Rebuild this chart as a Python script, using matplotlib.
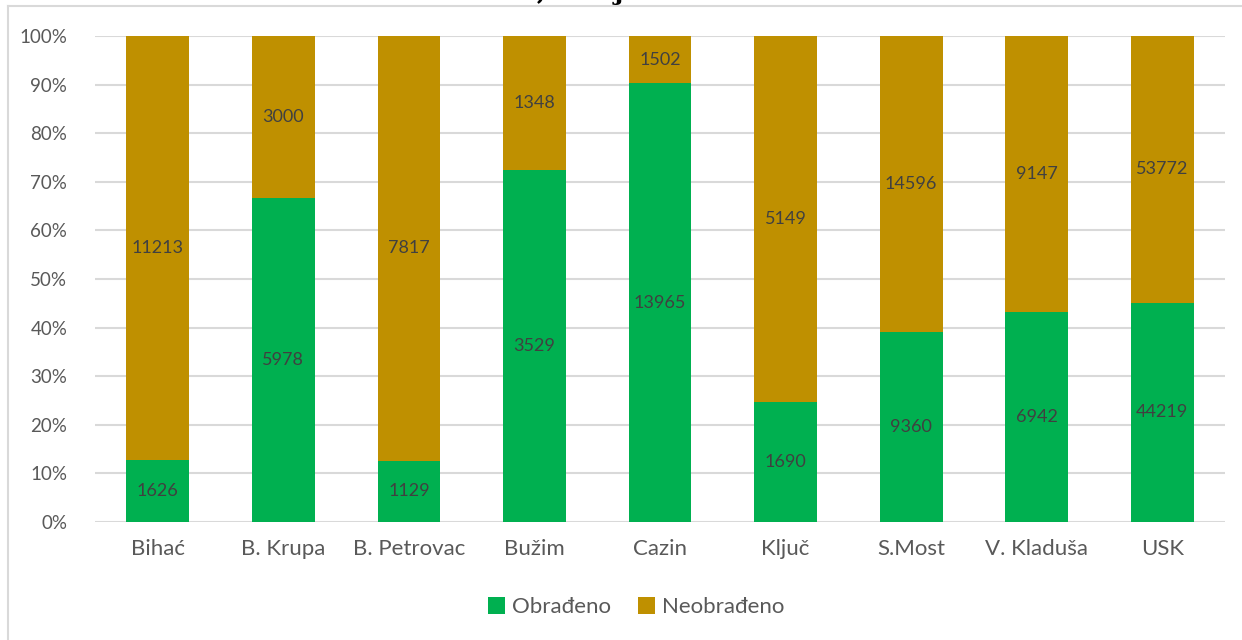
import matplotlib
matplotlib.use("Agg")
import matplotlib.pyplot as plt
import numpy as np

plt.rcParams['font.family'] = ['Lato', 'DejaVu Sans']

opcine = ["Bihać", "B. Krupa", "B. Petrovac", "Bužim", "Cazin", "Ključ", "S.Most", "V. Kladuša", "USK"]
obradeno = [1626, 5978, 1129, 3529, 13965, 1690, 9360, 6942, 44219]
neobradeno = [11213, 3000, 7817, 1348, 1502, 5149, 14596, 9147, 53772]

green = "#00B050"
gold = "#BF9000"

ob = np.array(obradeno, dtype=float)
ne = np.array(neobradeno, dtype=float)
tot = ob + ne
p_ob = ob / tot * 100
p_ne = ne / tot * 100

fig = plt.figure(figsize=(12.42, 6.4), dpi=100)
ax = fig.add_axes([95 / 1242, 1 - 522 / 640, 1130 / 1242, 486 / 640])

x = np.arange(len(opcine))
b1 = ax.bar(x, p_ob, 0.5, color=green, label="Obrađeno", zorder=3)
b2 = ax.bar(x, p_ne, 0.5, bottom=p_ob, color=gold, label="Neobrađeno", zorder=3)

for i in range(len(opcine)):
    ax.text(x[i], p_ob[i] / 2, str(obradeno[i]), ha="center", va="center",
            fontsize=13, color="#404040", zorder=4)
    ax.text(x[i], p_ob[i] + p_ne[i] / 2, str(neobradeno[i]), ha="center", va="center",
            fontsize=13, color="#404040", zorder=4)

ax.set_xlim(-0.5, len(opcine) - 0.5)
ax.set_ylim(0, 100)
ax.set_yticks(np.arange(0, 101, 10))
ax.set_yticklabels([f"{v}%" for v in range(0, 101, 10)])
ax.set_xticks(x)
ax.set_xticklabels(opcine)
ax.tick_params(axis="y", length=0, labelsize=13.5, labelcolor="#595959", pad=20)
ax.tick_params(axis="x", length=0, labelsize=16, labelcolor="#595959", pad=12)
ax.grid(axis="y", color="#D9D9D9", linewidth=1.5, zorder=0)
for s in ax.spines.values():
    s.set_visible(False)

leg = fig.legend(handles=[b1, b2], loc="center", bbox_to_anchor=(636 / 1242, 1 - 607 / 640),
                 ncol=2, frameon=False, fontsize=16, handlelength=0.8, handleheight=0.8,
                 handletextpad=0.3, columnspacing=1.2)
for t in leg.get_texts():
    t.set_color("#595959")

# rub okvira grafikona
fig.add_artist(plt.Line2D([8 / 1242, 8 / 1242], [0, 1 - 6 / 640], color="#D9D9D9", lw=1.5))
fig.add_artist(plt.Line2D([8 / 1242, 1], [1 - 6 / 640, 1 - 6 / 640], color="#D9D9D9", lw=1.5))

# naslov, odsječen na vrhu kao u originalu
fig.text(0.5, 1 - 5 / 640, "Oranice, stanje obrađenosti", ha="center", va="bottom",
         fontsize=18, fontweight="bold", family="DejaVu Serif", color="#000000")

fig.savefig("out.png", dpi=100)
